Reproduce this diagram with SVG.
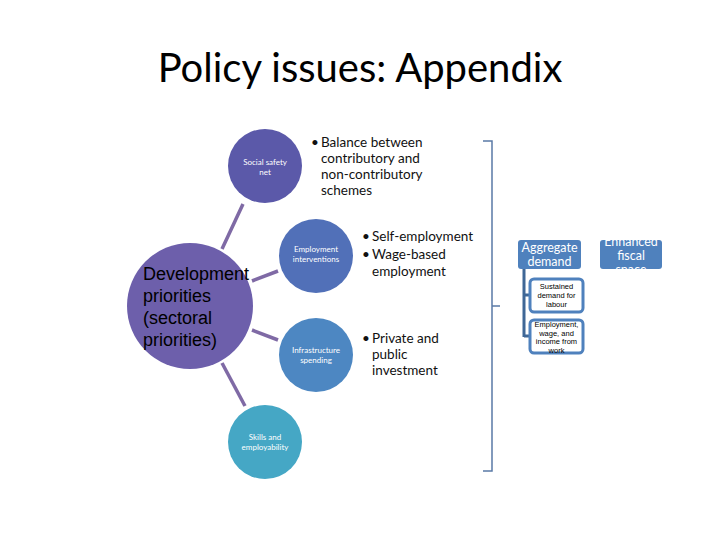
<svg xmlns="http://www.w3.org/2000/svg" width="720" height="540" viewBox="0 0 720 540">
<style>
.title{font-family:Lato,"Open Sans",sans-serif;font-size:40px;fill:#000}
.ctext{font-family:Lato,"Open Sans",sans-serif;font-size:8px;fill:#fff;text-anchor:middle}
.big{font-family:"Liberation Sans",Arial,sans-serif;font-size:18px;fill:#000}
.bul{font-family:Lato,"Open Sans",sans-serif;font-size:13.5px;fill:#111}
.conn{stroke:#7f6aa5;stroke-width:3.5;fill:none}
.brace{stroke:#5a7aa6;stroke-width:1.5;fill:none}
.box{fill:#4f81bd}
.btext{font-family:Lato,"Open Sans",sans-serif;font-size:12.5px;fill:#fff;text-anchor:middle}
.sub{fill:#fff;stroke:#4f81bd;stroke-width:3}
.stext{font-family:"Liberation Sans",Arial,sans-serif;font-size:7.5px;fill:#000;text-anchor:middle}
</style>
<defs>
<clipPath id="clipEnh"><rect x="600" y="240" width="62" height="29" rx="3"/></clipPath>
</defs>
<rect width="720" height="540" fill="#fff"/>
<text class="title" x="360" y="82" text-anchor="middle">Policy issues: Appendix</text>

<g id="connectors">
<line class="conn" x1="222" y1="249" x2="243" y2="204"/>
<line class="conn" x1="252" y1="281" x2="278" y2="271"/>
<line class="conn" x1="252" y1="330" x2="278" y2="340"/>
<line class="conn" x1="222" y1="363" x2="245" y2="406"/>
<path class="brace" d="M483 141 H492 V471 H483 M492 306 H500"/>
<path d="M524 269 V337 M524 295 H530 M524 336 H530" stroke="#3f6796" stroke-width="3" fill="none"/>
</g>

<g id="dev">
<circle cx="190" cy="306" r="63" fill="#6d5fab"/>
<text class="big" x="143"><tspan x="143" y="280">Development</tspan><tspan x="143" y="302">priorities</tspan><tspan x="143" y="324">(sectoral</tspan><tspan x="143" y="346">priorities)</tspan></text>
</g>

<g id="social">
<circle cx="265" cy="166" r="37" fill="#5b59a9"/>
<text class="ctext"><tspan x="265" y="165">Social safety</tspan><tspan x="265" y="175">net</tspan></text>
</g>

<g id="employment">
<circle cx="316" cy="256" r="37" fill="#5170b8"/>
<text class="ctext"><tspan x="316" y="252">Employment</tspan><tspan x="316" y="262">interventions</tspan></text>
</g>

<g id="infra">
<circle cx="316" cy="355" r="37" fill="#4d87c2"/>
<text class="ctext"><tspan x="316" y="353">Infrastructure</tspan><tspan x="316" y="363">spending</tspan></text>
</g>

<g id="skills">
<circle cx="265" cy="442" r="37" fill="#45a7c5"/>
<text class="ctext"><tspan x="265" y="440">Skills and</tspan><tspan x="265" y="450">employability</tspan></text>
</g>

<g id="bullets1">
<text class="bul"><tspan x="311" y="147">•</tspan><tspan x="321" y="147">Balance between</tspan><tspan x="321" y="163">contributory and</tspan><tspan x="321" y="179">non-contributory</tspan><tspan x="321" y="195">schemes</tspan></text>
</g>
<g id="bullets2">
<text class="bul"><tspan x="362" y="241">•</tspan><tspan x="372" y="241">Self-employment</tspan><tspan x="362" y="259">•</tspan><tspan x="372" y="259">Wage-based</tspan><tspan x="372" y="276">employment</tspan></text>
</g>
<g id="bullets3">
<text class="bul"><tspan x="362" y="343">•</tspan><tspan x="372" y="343">Private and</tspan><tspan x="372" y="359">public</tspan><tspan x="372" y="375">investment</tspan></text>
</g>

<g id="aggregate">
<rect class="box" x="518" y="240" width="63" height="29" rx="3"/>
<text class="btext"><tspan x="549.5" y="252">Aggregate</tspan><tspan x="549.5" y="266">demand</tspan></text>
</g>
<g id="fiscal">
<rect class="box" x="600" y="240" width="62" height="29" rx="3"/>
<text class="btext" clip-path="url(#clipEnh)"><tspan x="631" y="246">Enhanced</tspan><tspan x="631" y="260">fiscal</tspan><tspan x="631" y="274">space</tspan></text>
</g>
<g id="sustained">
<rect class="sub" x="530" y="279" width="53" height="33" rx="4"/>
<text class="stext"><tspan x="556.5" y="289">Sustained</tspan><tspan x="556.5" y="298">demand for</tspan><tspan x="556.5" y="307">labour</tspan></text>
</g>
<g id="income">
<rect class="sub" x="530" y="320" width="53" height="33" rx="4"/>
<text class="stext"><tspan x="556.5" y="327">Employment,</tspan><tspan x="556.5" y="335.5">wage, and</tspan><tspan x="556.5" y="344">income from</tspan><tspan x="556.5" y="352.5">work</tspan></text>
</g>
</svg>
